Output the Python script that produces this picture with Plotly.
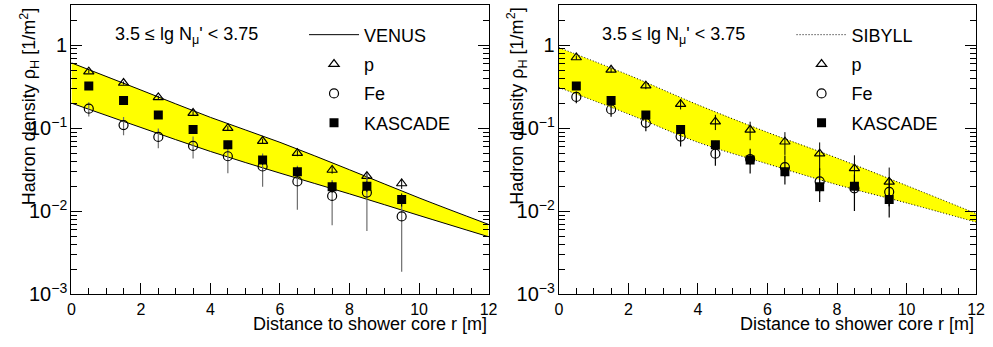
import plotly.graph_objects as go

# ---------------- data ----------------
r = [0.5, 1.5, 2.5, 3.5, 4.5, 5.5, 6.5, 7.5, 8.5, 9.5]

kascade = [0.322, 0.216, 0.144, 0.0966, 0.0634, 0.0413, 0.030, 0.0197, 0.020, 0.0139]
kascade_err = [0.02, 0.016, 0.012, 0.009, 0.007, 0.005, 0.004, 0.003, 0.003, 0.0025]

venus_p = [0.48, 0.35, 0.235, 0.152, 0.10, 0.070, 0.050, 0.0314, 0.0265, 0.0216]
venus_p_err = [0.02, 0.015, 0.011, 0.008, 0.006, 0.005, 0.004, 0.003, 0.003, 0.003]
venus_fe = [0.172, 0.109, 0.0785, 0.0612, 0.046, 0.0346, 0.0229, 0.0153, 0.0168, 0.00867]
venus_fe_err = [0.034, 0.027, 0.021, 0.018, 0.0173, 0.0149, 0.0125, 0.0085, 0.011, 0.0068]

sibyll_p = [0.71, 0.504, 0.325, 0.195, 0.12, 0.0957, 0.0687, 0.0494, 0.0328, 0.0226]
sibyll_p_err = [0.04, 0.035, 0.03, 0.027, 0.025, 0.024, 0.021, 0.018, 0.0144, 0.011]
sibyll_fe = [0.238, 0.168, 0.116, 0.0794, 0.0494, 0.0425, 0.034, 0.0229, 0.0189, 0.0171]
sibyll_fe_err = [0.038, 0.031, 0.024, 0.019, 0.014, 0.014, 0.013, 0.010, 0.0088, 0.0087]

band_r = [0, 2, 4, 6, 8, 10, 12]
venus_upper = [0.612, 0.288, 0.135, 0.0676, 0.0316, 0.0145, 0.00695]
venus_lower = [0.2005, 0.102, 0.0525, 0.0288, 0.0162, 0.00891, 0.00494]
sibyll_upper = [0.933, 0.437, 0.191, 0.0891, 0.0437, 0.0204, 0.0094]
sibyll_lower = [0.309, 0.148, 0.0676, 0.0372, 0.0209, 0.0126, 0.0074]

header = "3.5 \u2264 lg N<sub>\u03bc</sub>' < 3.75"
y_title = "Hadron density \u03c1<sub>H</sub> [1/m<sup>2</sup>]"
x_title = "Distance to shower core r [m]"

FONT = "Liberation Sans, Arial, Helvetica, sans-serif"
YELLOW = "#ffff00"
W, H = 993, 347

fig = go.Figure()


def add_panel(xa, ya, legend, model, upper, lower, dash, p, p_err, fe, fe_err, fe_err_color):
    # band
    fig.add_trace(go.Scatter(x=band_r, y=lower, mode="lines", line=dict(color="black", width=1, dash=dash, shape="spline"),
                             xaxis=xa, yaxis=ya, showlegend=False, hoverinfo="skip"))
    fig.add_trace(go.Scatter(x=band_r, y=upper, mode="lines", line=dict(color="black", width=1, dash=dash, shape="spline"),
                             fill="tonexty", fillcolor=YELLOW, xaxis=xa, yaxis=ya, showlegend=False, hoverinfo="skip"))
    # legend entry for the model line
    fig.add_trace(go.Scatter(x=[None], y=[None], mode="lines", line=dict(color="black", width=1, dash=dash),
                             name=model, legend=legend, legendgroup=legend + "a", xaxis=xa, yaxis=ya))
    # p
    fig.add_trace(go.Scatter(x=r, y=p, mode="markers", name="p", legend=legend, legendgroup=legend + "b",
                             marker=dict(symbol="triangle-up-open", size=9, color="black", line=dict(width=1.2)),
                             error_y=dict(type="data", array=p_err, color="black", thickness=1, width=0),
                             xaxis=xa, yaxis=ya))
    # Fe
    fig.add_trace(go.Scatter(x=r, y=fe, mode="markers", name="Fe", legend=legend, legendgroup=legend + "c",
                             marker=dict(symbol="circle-open", size=9, color="black", line=dict(width=1.2)),
                             error_y=dict(type="data", array=fe_err, color=fe_err_color, thickness=1.2, width=0),
                             xaxis=xa, yaxis=ya))
    # KASCADE
    fig.add_trace(go.Scatter(x=r, y=kascade, mode="markers", name="KASCADE", legend=legend, legendgroup=legend + "d",
                             marker=dict(symbol="square", size=9, color="black"),
                             error_y=dict(type="data", array=kascade_err, color="black", thickness=1, width=0),
                             xaxis=xa, yaxis=ya))


add_panel("x", "y", "legend", "VENUS", venus_upper, venus_lower, "solid",
          venus_p, venus_p_err, venus_fe, venus_fe_err, "#6e6e6e")
add_panel("x2", "y2", "legend2", "SIBYLL", sibyll_upper, sibyll_lower, "1px,2px",
          sibyll_p, sibyll_p_err, sibyll_fe, sibyll_fe_err, "black")

# geometry in pixels
y_bot, y_top = 304, 5
left_dom = [68.3 / W, 491 / W]
right_dom = [562.3 / W, 985 / W]
ydom = [(H - y_bot) / H, (H - y_top) / H]

xaxis_common = dict(range=[0, 12], dtick=2, ticks="inside", ticklen=11, tickwidth=1, tickcolor="black",
                    showline=True, linecolor="black", linewidth=1, mirror=True, showgrid=False, zeroline=False,
                    tickfont=dict(family=FONT, size=16, color="black"),
                    minor=dict(dtick=0.5, ticks="inside", ticklen=6, tickcolor="black", showgrid=False))
yaxis_common = dict(type="log", range=[-3, 0.485], dtick=1, exponentformat="power", ticks="inside", ticklen=11,
                    tickwidth=1, tickcolor="black", showline=True, linecolor="black", linewidth=1, mirror="ticks",
                    showgrid=False, zeroline=False, tickfont=dict(family=FONT, size=16, color="black"),
                    minor=dict(ticks="inside", ticklen=6, tickcolor="black", showgrid=False))

legend_common = dict(font=dict(family=FONT, size=18, color="black"), bgcolor="rgba(0,0,0,0)",
                     tracegroupgap=3, itemwidth=50, xanchor="left", yanchor="top", itemsizing="trace")

fig.update_layout(
    width=W, height=H, margin=dict(l=0, r=0, t=0, b=0),
    paper_bgcolor="white", plot_bgcolor="white",
    font=dict(family=FONT, size=18, color="black"),
    xaxis=dict(domain=left_dom, anchor="y", **xaxis_common),
    yaxis=dict(domain=ydom, anchor="x", **yaxis_common),
    xaxis2=dict(domain=right_dom, anchor="y2", **xaxis_common),
    yaxis2=dict(domain=ydom, anchor="x2", **yaxis_common),
    legend=dict(x=304 / W, y=(H - 17) / H, **legend_common),
    legend2=dict(x=798 / W, y=(H - 17) / H, **legend_common),
)

annotations = []
for x0, x1 in [(68.3, 491), (562.3, 985)]:
    annotations.append(dict(text=header, x=(x0 + 42) / W, y=(H - 37) / H, xref="paper", yref="paper",
                            xanchor="left", yanchor="middle", showarrow=False,
                            font=dict(family=FONT, size=18, color="black")))
    annotations.append(dict(text=x_title, x=x1 / W, y=0, xref="paper", yref="paper",
                            xanchor="right", yanchor="bottom", showarrow=False,
                            font=dict(family=FONT, size=18, color="black")))
    annotations.append(dict(text=y_title, x=(x0 - 43) / W, y=(H - 6) / H, xref="paper", yref="paper",
                            xanchor="center", yanchor="top", textangle=-90, showarrow=False,
                            font=dict(family=FONT, size=18, color="black")))
fig.update_layout(annotations=annotations)

fig.write_html("out.html")
